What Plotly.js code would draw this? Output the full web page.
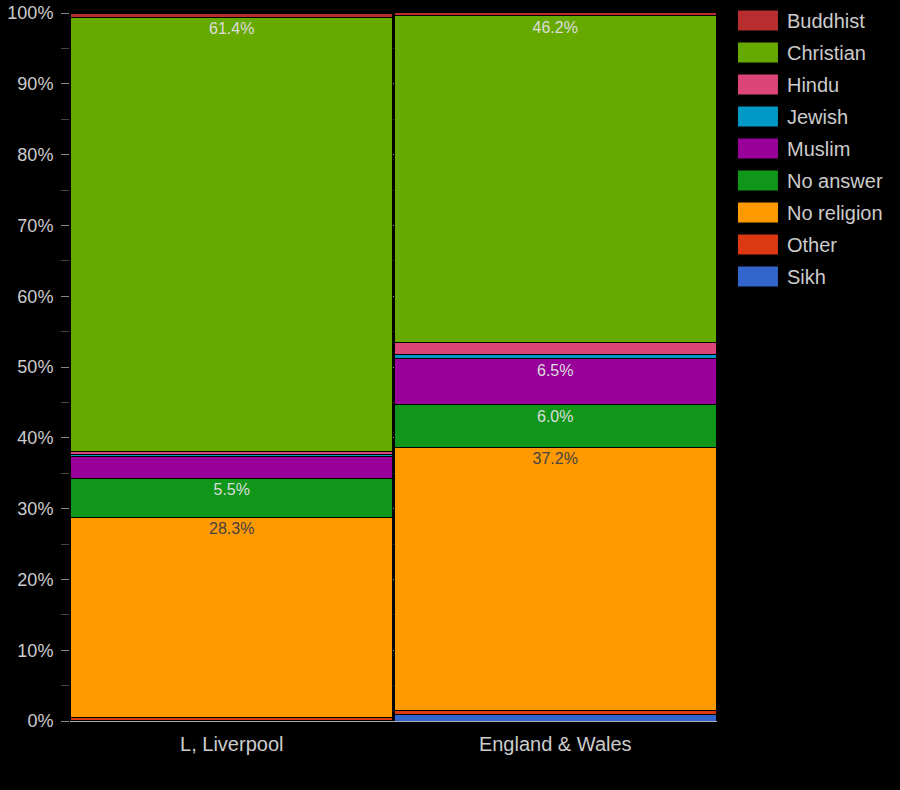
<!DOCTYPE html>
<html>
<head>
<meta charset="utf-8">
<script src="https://cdn.plot.ly/plotly-3.0.1.min.js"></script>
<style>
  body { margin: 0; background: #000; }
  #plot { width: 900px; height: 790px; }
</style>
</head>
<body>
<div id="plot"></div>
<script>
var areas = ["L, Liverpool", "England & Wales"];
// stacked bottom to top
var groups = ["Sikh", "Other", "No religion", "No answer", "Muslim", "Jewish", "Hindu", "Christian", "Buddhist"];
var colors = ["#3366cc", "#dc3912", "#ff9900", "#109618", "#990099", "#0099c6", "#dd4477", "#66aa00", "#b82e2e"];
var sikh = [0.1, 0.9];
var other = [0.4, 0.6];
var noReligion = [28.3, 37.2];
var noAnswer = [5.5, 6.0];
var muslim = [3.1, 6.5];
var jewish = [0.2, 0.5];
var hindu = [0.4, 1.7];
var christian = [61.4, 46.2];
var buddhist = [0.5, 0.5];
var values = [sikh, other, noReligion, noAnswer, muslim, jewish, hindu, christian, buddhist];

var data = [];
for (var i = 0; i < groups.length; i++) {
  var txt = values[i].map(function(v) { return v >= 5 ? v.toFixed(1) + "%" : ""; });
  data.push({
    type: "bar",
    name: groups[i],
    legendgroup: groups[i],
    legendrank: groups.length - i,
    x: areas,
    y: values[i],
    text: txt,
    textposition: "inside",
    insidetextanchor: "end",
    textangle: 0,
    textfont: {family: "Arial, Liberation Sans, sans-serif", size: 16,
               color: groups[i] == "No religion" ? "#444444" : "#dddddd"},
    hoverinfo: "name+y",
    marker: {color: colors[i], line: {color: "#000", width: 1}}
  });
}

var layout = {
  barmode: "stack",
  bargap: 0.005,
  paper_bgcolor: "#000",
  plot_bgcolor: "#000",
  font: {family: "Arial, Liberation Sans, sans-serif", color: "#cccccc", size: 18},
  margin: {l: 70, r: 183, t: 13, b: 69, autoexpand: false},
  showlegend: true,
  legend: {x: 1.0185, y: 1.017, xanchor: "left", yanchor: "top",
           traceorder: "grouped", tracegroupgap: 3, itemwidth: 48,
           font: {size: 20, color: "#cccccc"}},
  xaxis: {tickfont: {size: 20}, showline: false, ticks: "", automargin: false, ticklabelstandoff: 9},
  yaxis: {
    range: [0, 100],
    automargin: false,
    tickvals: [0, 10, 20, 30, 40, 50, 60, 70, 80, 90, 100],
    ticktext: ["0%", "10%", "20%", "30%", "40%", "50%", "60%", "70%", "80%", "90%", "100%"],
    ticks: "outside", ticklen: 8, tickcolor: "#888", ticklabelstandoff: 4,
    gridcolor: "#aaaaaa", zeroline: true, zerolinecolor: "#aaaaaa",
    minor: {dtick: 5, ticks: "outside", ticklen: 8, tickcolor: "#444", showgrid: true, gridcolor: "#444"},
    tickfont: {size: 18}
  }
};
Plotly.newPlot("plot", data, layout, {displayModeBar: false}).then(function() {
  // bigger legend swatches like the original
  document.querySelectorAll("#plot .legendpoints path").forEach(function(p) {
    var t = p.getAttribute("transform") || "";
    p.setAttribute("transform", t + " scale(3.33,1.67)");
    p.style.strokeWidth = "0";
  });
});
</script>
</body>
</html>
